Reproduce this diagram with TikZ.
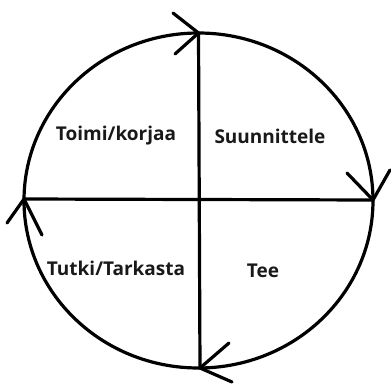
\documentclass[tikz,border=0pt]{standalone}
\usepackage{fontspec}
\setmainfont{Open Sans}
\begin{document}
\begin{tikzpicture}[x=1pt,y=-1pt,
  stroke/.style={line width=3.2pt,black},
  arm/.style={line width=3.2pt,black,line cap=round},
  lbl/.style={font=\fontsize{19}{22}\selectfont\bfseries,text=black!90,inner sep=0pt}]
\useasboundingbox (0,0) rectangle (391,383);
\coordinate (C) at (198.5,200.5);
\coordinate (T) at (198.5,33);
\coordinate (R) at (373,200);
\coordinate (B) at (200,368);
\coordinate (L) at (24,199);
\draw[stroke] (C) ellipse [x radius=174.5, y radius=167.5];
\draw[stroke] (T) -- (B);
\draw[stroke] (L) -- (R);
% arrowheads
\coordinate (t1) at (173,13); \coordinate (t2) at (175,54);
\draw[arm] (t1) -- (T) -- (t2);
\coordinate (r1) at (347,173); \coordinate (r2) at (390,170);
\draw[arm] (r1) -- (R) -- (r2);
\coordinate (l1) at (7,223); \coordinate (l2) at (42,235);
\draw[arm] (l1) -- (L) -- (l2);
\coordinate (b1) at (229,343); \coordinate (b2) at (232,382);
\draw[arm] (b1) -- (B) -- (b2);
% labels
\node[lbl] (toimi) at (116,136) {Toimi/korjaa};
\node[lbl] (suun) at (270,136) {Suunnittele};
\node[lbl] (tutki) at (116,268) {Tutki/Tarkasta};
\node[lbl] (tee) at (263,271) {Tee};
\end{tikzpicture}
\end{document}
